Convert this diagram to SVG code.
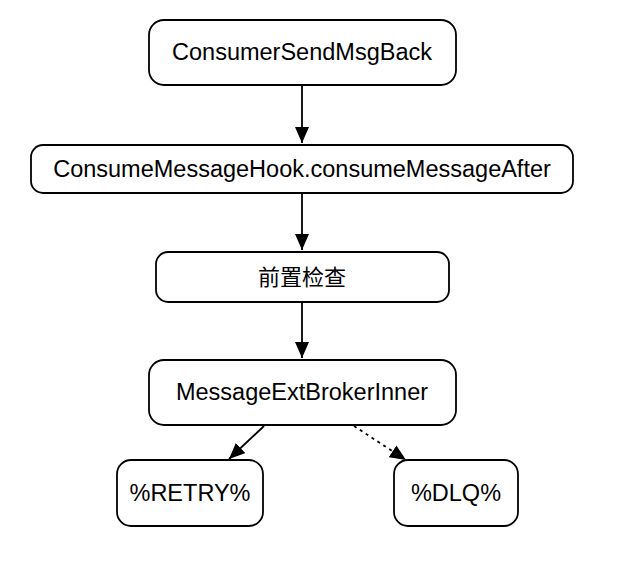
<svg xmlns="http://www.w3.org/2000/svg" width="628" height="568" viewBox="0 0 628 568">
<style>
.n{fill:#fff;stroke:#000;stroke-width:1.8}
.t{font-family:"Liberation Sans",Arial,"Noto Sans CJK SC",sans-serif;font-size:23.5px;fill:#000;text-anchor:middle;dominant-baseline:central}
.cjk{font-size:22px}
.c{fill:none;stroke:#000;stroke-width:1.8}
</style>
<defs>
<marker id="a" markerUnits="userSpaceOnUse" markerWidth="16" markerHeight="14" refX="16" refY="7" orient="auto">
<path d="M0,0 L16,7 L0,14 Z" fill="#000"/>
</marker>
</defs>
<rect width="628" height="568" fill="#fff"/>
<g id="connectors">
<line class="c" x1="302" y1="85" x2="302" y2="143" marker-end="url(#a)"/>
<line class="c" x1="302" y1="193" x2="302" y2="250" marker-end="url(#a)"/>
<line class="c" x1="302" y1="302" x2="302" y2="358" marker-end="url(#a)"/>
<line class="c" x1="264" y1="426" x2="229" y2="459" marker-end="url(#a)"/>
<line class="c" x1="354" y1="426" x2="406" y2="460" stroke-dasharray="3 4" marker-end="url(#a)"/>
</g>
<g id="n1"><rect class="n" x="149" y="20" width="307" height="65" rx="15"/><text class="t" x="302" y="52">ConsumerSendMsgBack</text></g>
<g id="n2"><rect class="n" x="31" y="145" width="542" height="48" rx="12"/><text class="t" x="302" y="169">ConsumeMessageHook.consumeMessageAfter</text></g>
<g id="n3"><rect class="n" x="156" y="252" width="293" height="50" rx="12"/><text class="t cjk" x="302" y="277">前置检查</text></g>
<g id="n4"><rect class="n" x="149" y="360" width="307" height="65" rx="15"/><text class="t" x="302" y="392">MessageExtBrokerInner</text></g>
<g id="n5"><rect class="n" x="117" y="460" width="146" height="66" rx="14"/><text class="t" x="190" y="493">%RETRY%</text></g>
<g id="n6"><rect class="n" x="394" y="460" width="124" height="66" rx="14"/><text class="t" x="456" y="493">%DLQ%</text></g>
</svg>
